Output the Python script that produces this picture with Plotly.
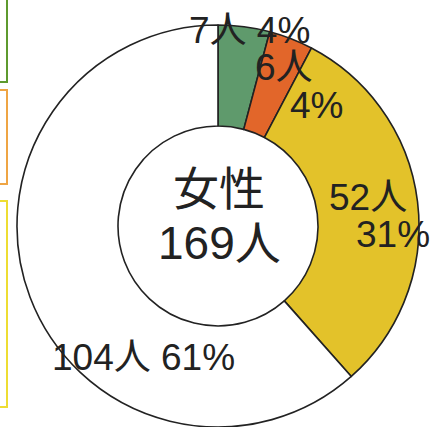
import plotly.graph_objects as go

# Breakdown of the 169 women
categories = ["グループA", "グループB", "グループC", "グループD"]
counts = [7, 6, 52, 104]
percents = [4, 4, 31, 61]
center_title = "女性"

slice_colors = ["#5f9a6c", "#e2662a", "#e3c22a", "#ffffff"]
legend_colors = ["#5e9a2e", "#efa544", "#eedd33"]

W, H = 440, 427
FONT = "Liberation Sans, Noto Sans CJK JP, sans-serif"

def px(x):
    return x / W

def py(y):
    return 1 - y / H

fig = go.Figure(
    go.Pie(
        labels=categories,
        values=counts,
        sort=False,
        direction="clockwise",
        rotation=0,
        hole=0.4975,
        marker=dict(colors=slice_colors, line=dict(color="#222222", width=1.6)),
        textinfo="none",
        hoverinfo="label+value+percent",
        domain=dict(x=[px(218 - 201), px(218 + 201)], y=[0, 402 / H]),
        showlegend=False,
    )
)

# Label placement (pixel positions) for each slice: count line and percent line
label_layout = [
    [("{c}人 {p}%", 249, 31)],
    [("{c}人", 284, 68), ("{p}%", 316, 105)],
    [("{c}人", 368, 197), ("{p}%", 393, 234)],
    [("{c}人 {p}%", 143, 357)],
]

annotations = []
for c, p, parts in zip(counts, percents, label_layout):
    for fmt, x, y in parts:
        txt = fmt.format(c=c, p=p)
        annotations.append(
            dict(
                text=txt, x=px(x), y=py(y), xref="paper", yref="paper",
                showarrow=False, xanchor="center", yanchor="middle",
                font=dict(family=FONT, size=37, color="#222222"),
            )
        )

# Centre caption: title and total
for txt, y in [(center_title, 189), (f"{sum(counts)}人", 243)]:
    annotations.append(
        dict(
            text=txt, x=px(219), y=py(y),
            xref="paper", yref="paper", showarrow=False,
            xanchor="center", yanchor="middle",
            font=dict(family=FONT, size=46, color="#222222"),
        )
    )

# Legend boxes along the left edge (partly outside the page)
box_rows = [(-30, 82), (90, 184), (201, 407)]
shapes = []
for (y0, y1), col in zip(box_rows, legend_colors):
    shapes.append(
        dict(
            type="rect", xref="paper", yref="paper",
            x0=px(-60), x1=px(7), y0=py(y1), y1=py(y0),
            line=dict(color=col, width=2), fillcolor="rgba(0,0,0,0)",
        )
    )

fig.update_layout(
    width=W, height=H,
    margin=dict(l=0, r=0, t=0, b=0),
    paper_bgcolor="white",
    plot_bgcolor="white",
    annotations=annotations,
    shapes=shapes,
)

fig.write_html("out.html")
